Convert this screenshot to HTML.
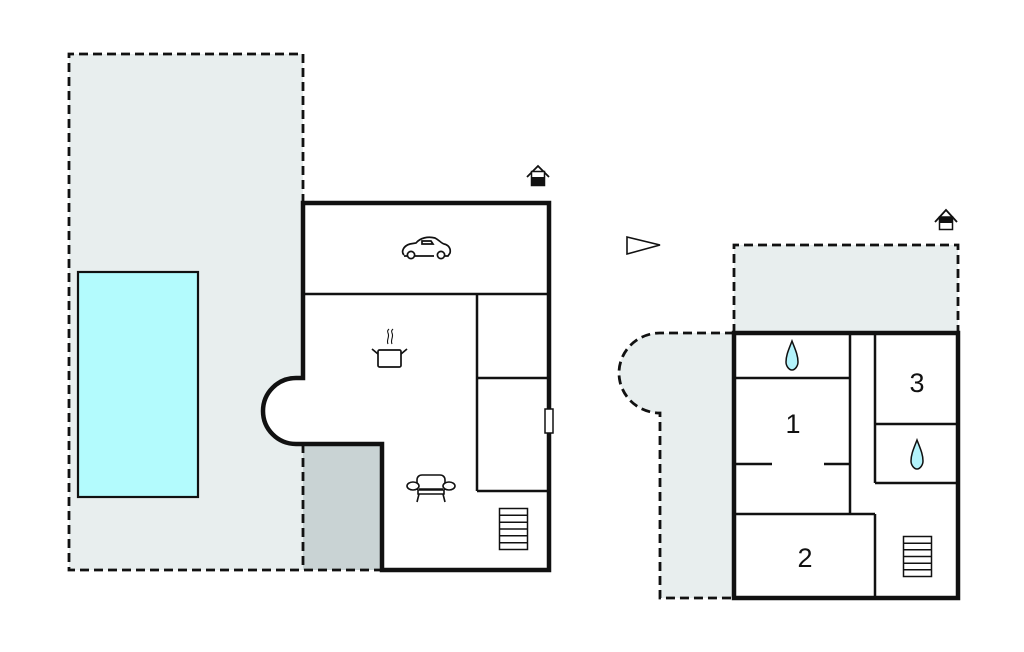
<!DOCTYPE html>
<html>
<head>
<meta charset="utf-8">
<style>
html,body{margin:0;padding:0;background:#fff;}
svg{display:block;}
text{font-family:"Liberation Sans",sans-serif;}
</style>
</head>
<body>
<svg width="1024" height="652" viewBox="0 0 1024 652" xmlns="http://www.w3.org/2000/svg">
  <!-- Left terrace -->
  <rect x="69" y="54" width="234" height="516" fill="#e8eeee"/>
  <rect x="303" y="444" width="79" height="126" fill="#c9d3d4"/>
  <path d="M303 203 V54 H69 V570 H382" fill="none" stroke="#111" stroke-width="2.8" stroke-dasharray="9 5"/>
  <path d="M303 444 V570" fill="none" stroke="#111" stroke-width="2.8" stroke-dasharray="9 5"/>
  <!-- Pool -->
  <rect x="78" y="272" width="120" height="225" fill="#b3fbfd" stroke="#111" stroke-width="2.2"/>

  <!-- Main house -->
  <path d="M303 203 H549 V570 H382 V444 H296 A33 33 0 0 1 296 378 H303 Z" fill="#fff" stroke="#111" stroke-width="4.5" stroke-linejoin="miter"/>
  <!-- interior walls -->
  <g stroke="#111" stroke-width="2.5" fill="none">
    <line x1="303" y1="294" x2="549" y2="294"/>
    <line x1="477" y1="294" x2="477" y2="491"/>
    <line x1="477" y1="378" x2="549" y2="378"/>
    <line x1="477" y1="491" x2="549" y2="491"/>
  </g>
  <!-- window -->
  <rect x="545" y="409" width="8" height="24" fill="#fff" stroke="#111" stroke-width="1.5"/>
  <!-- stairs left -->
  <g stroke="#111" stroke-width="1.5" fill="#fff">
    <rect x="499.5" y="508.5" width="28" height="41"/>
    <line x1="499.5" y1="515.3" x2="527.5" y2="515.3"/>
    <line x1="499.5" y1="522.2" x2="527.5" y2="522.2"/>
    <line x1="499.5" y1="529" x2="527.5" y2="529"/>
    <line x1="499.5" y1="535.8" x2="527.5" y2="535.8"/>
    <line x1="499.5" y1="542.7" x2="527.5" y2="542.7"/>
  </g>
  <!-- car icon -->
  <g fill="none" stroke="#111" stroke-width="1.7">
    <path d="M404 255 C401 252 403 246 410 244 L416 243 C420 238 428 236 435 238 C439 240 441 243 444 244 C449 245 451 249 450 253 L448 256 H445 M434 256 H415 M408 256 H404"/>
    <circle cx="411" cy="255" r="3.6"/>
    <circle cx="441" cy="255" r="3.6"/>
    <path d="M422 241 H431 L433 244 H422 Z"/>
  </g>
  <!-- pot icon -->
  <g fill="none" stroke="#111" stroke-width="1.7">
    <rect x="378" y="350" width="23" height="17" rx="1.5"/>
    <line x1="378" y1="354" x2="372" y2="349"/>
    <line x1="401" y1="354" x2="407" y2="349"/>
    <path d="M388 344 C386 340 390 337 388 333 C387 331 388 330 389 329" stroke-width="1.1"/>
    <path d="M392 344 C390 340 394 337 392 333 C391 331 392 330 393 329" stroke-width="1.1"/>
  </g>
  <!-- sofa icon -->
  <g fill="#fff" stroke="#111" stroke-width="1.6">
    <path d="M417 490 V480 C417 477 419 475 422 475 H440 C443 475 445 477 445 480 V490"/>
    <path d="M418 490 V494 H444 V490 Z"/>
    <ellipse cx="413" cy="486" rx="6" ry="4"/>
    <ellipse cx="449" cy="486" rx="6" ry="4"/>
    <line x1="419" y1="494" x2="417" y2="502"/>
    <line x1="443" y1="494" x2="445" y2="502"/>
    <line x1="419" y1="489" x2="443" y2="489"/>
  </g>
  <!-- house icon left -->
  <g>
    <path d="M527 177 L538 166 L549 177" fill="none" stroke="#111" stroke-width="1.8"/>
    <rect x="531.5" y="171.5" width="13" height="14" fill="#fff" stroke="#111" stroke-width="1.5"/>
    <rect x="531.5" y="177" width="13" height="8.5" fill="#111"/>
  </g>

  <!-- north arrow -->
  <path d="M627 237 L660 245 L627 254 Z" fill="#fff" stroke="#111" stroke-width="1.6"/>

  <!-- house icon right -->
  <g>
    <path d="M935 222 L946 210 L957 222" fill="none" stroke="#111" stroke-width="1.8"/>
    <rect x="939.5" y="217" width="13" height="12.5" fill="#fff" stroke="#111" stroke-width="1.5"/>
    <rect x="939.5" y="217" width="13" height="6" fill="#111"/>
  </g>

  <!-- Right building terraces -->
  <rect x="734" y="245" width="224" height="88" fill="#e8eeee"/>
  <path d="M734 333 V245 H958 V333" fill="none" stroke="#111" stroke-width="2.8" stroke-dasharray="9 5"/>
  <path d="M734 333 H660 A41 40 0 0 0 660 413 V598 H734 Z" fill="#e8eeee"/>
  <path d="M734 333 H660 A41 40 0 0 0 660 413 V598 H734" fill="none" stroke="#111" stroke-width="2.8" stroke-dasharray="9 5"/>

  <!-- Right building -->
  <rect x="734" y="333" width="224" height="265" fill="#fff" stroke="#111" stroke-width="4.5"/>
  <g stroke="#111" stroke-width="2.5" fill="none">
    <line x1="850" y1="333" x2="850" y2="514"/>
    <line x1="875" y1="333" x2="875" y2="483"/>
    <line x1="734" y1="378" x2="850" y2="378"/>
    <line x1="875" y1="424" x2="958" y2="424"/>
    <line x1="875" y1="483" x2="958" y2="483"/>
    <line x1="734" y1="514" x2="875" y2="514"/>
    <line x1="875" y1="514" x2="875" y2="598"/>
    <line x1="734" y1="464" x2="772" y2="464"/>
    <line x1="824" y1="464" x2="850" y2="464"/>
  </g>
  <!-- drops -->
  <path d="M792 341 C789 349 786 355 786 362 C786 366 789 370 792 370 C795 370 798 366 798 362 C798 355 795 349 792 341 Z" fill="#b3f3fb" stroke="#111" stroke-width="1.5"/>
  <path d="M917 440 C914 448 911 454 911 461 C911 465 914 469 917 469 C920 469 923 465 923 461 C923 454 920 448 917 440 Z" fill="#b3f3fb" stroke="#111" stroke-width="1.5"/>
  <!-- stairs right -->
  <g stroke="#111" stroke-width="1.5" fill="#fff">
    <rect x="903.5" y="536.5" width="28" height="40"/>
    <line x1="903.5" y1="543.2" x2="931.5" y2="543.2"/>
    <line x1="903.5" y1="549.8" x2="931.5" y2="549.8"/>
    <line x1="903.5" y1="556.5" x2="931.5" y2="556.5"/>
    <line x1="903.5" y1="563.2" x2="931.5" y2="563.2"/>
    <line x1="903.5" y1="569.8" x2="931.5" y2="569.8"/>
  </g>
  <!-- labels -->
  <text x="793" y="433" font-size="27" text-anchor="middle" fill="#111">1</text>
  <text x="805" y="567" font-size="27" text-anchor="middle" fill="#111">2</text>
  <text x="917" y="392" font-size="27" text-anchor="middle" fill="#111">3</text>
</svg>
</body>
</html>
